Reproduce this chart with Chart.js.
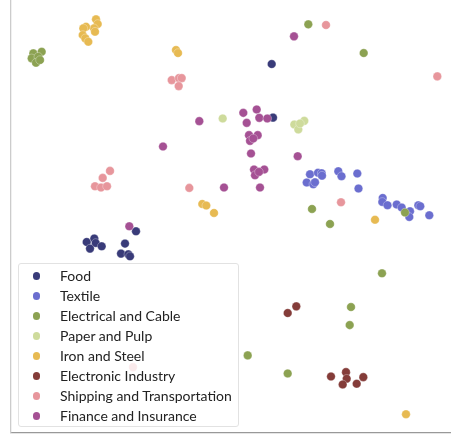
<!DOCTYPE html>
<html>
<head>
<meta charset="utf-8">
<script src="https://cdn.jsdelivr.net/npm/chart.js@4/dist/chart.umd.min.js"></script>
<style>
  html, body { margin: 0; padding: 0; background: #fff; }
  #wrap { position: relative; width: 451px; height: 434px; }
  #legend {
    position: absolute; left: 18px; top: 263px; width: 219px; height: 160px;
    border: 1px solid #e2e2e2; border-radius: 3px; background: rgba(255,255,255,0.8);
    padding-top: 2px; box-sizing: content-box;
    font-family: Lato, "Noto Sans", sans-serif; font-size: 14px; color: #222;
  }
  .item { height: 20px; line-height: 20px; position: relative; white-space: nowrap; }
  .dot { position: absolute; left: 14px; top: 6.3px; width: 7.4px; height: 7.4px; border-radius: 50%; }
  .lbl { position: absolute; left: 41px; top: 0; }
</style>
</head>
<body>
<div id="wrap">
  <canvas id="c" width="451" height="434"></canvas>
  <div id="legend"></div>
</div>
<script>
const categories = ["Food", "Textile", "Electrical and Cable", "Paper and Pulp", "Iron and Steel", "Electronic Industry", "Shipping and Transportation", "Finance and Insurance"];
const colors = ["#393b79", "#6b6ecf", "#8ca252", "#cedb9c", "#e7ba52", "#843c39", "#e7969c", "#a55194"];

const foodX = [260.7, 262, 75.7, 83.3, 84.7, 79, 90.7, 114, 110, 117.3, 119, 125];
const foodY = [368, 314.5, 190.3, 193.7, 189.3, 183.7, 186, 188.7, 178.7, 178, 176, 201];

const textileX = [299, 307, 310.7, 311, 295.7, 302.3, 304, 327.3, 330.5, 346.3, 347.5, 371.7, 371.3, 376.5, 385.7, 390.7, 399, 398.3, 407.3, 409.3, 418.3];
const textileY = [258, 259.5, 259, 256.5, 249.7, 248, 250, 261, 256, 258.7, 243.7, 234.3, 230.3, 227, 227.7, 224.7, 221, 215.3, 227, 226, 217];

const electricalX = [22.3, 30.7, 20.7, 27.3, 25, 29, 297.3, 352.7, 301, 394, 319, 371, 340, 338.7, 236.7, 276.7];
const electricalY = [378.7, 380.3, 373.7, 375.3, 369.3, 372, 407.7, 379, 223.3, 219.7, 208.3, 159, 125.3, 107.3, 77, 59];

const paperX = [211.7, 283.3, 293.3, 287.3, 289];
const paperY = [313.7, 307.7, 311.3, 302.7, 308.7];

const ironX = [85, 86.7, 83, 75, 72.3, 71.7, 74.3, 77.3, 84, 165, 167, 191.3, 195.3, 203, 364, 395];
const ironY = [412.7, 408, 403.7, 405.3, 403.7, 397, 393.7, 390.3, 400.3, 382, 379, 228.3, 226.7, 219.3, 212.5, 18.3];

const electronicX = [285.3, 276.7, 320, 335, 335.7, 331.7, 345.7, 352.3];
const electronicY = [126, 119.3, 56, 60.3, 53.7, 48, 48.7, 55.3];

const shippingX = [315, 426.3, 160.7, 168, 170.7, 167.7, 99, 91.7, 84, 90, 96, 178.3, 330, 122];
const shippingY = [407, 355.7, 352, 354, 354, 346, 261.3, 254.3, 246, 244.7, 246, 244.3, 230, 65.3];

const financeX = [283, 188.3, 152, 213, 232.3, 245.7, 235.7, 248.3, 256.3, 238, 246.7, 239, 242.3, 240, 286.7, 243, 253.3, 244, 248, 249, 118.3];
const financeY = [395.7, 311, 285.7, 244.7, 319.3, 322.7, 309.3, 314.3, 313.7, 297, 297, 291.3, 293.7, 278.7, 276, 262.7, 262.7, 257, 260.3, 244.7, 206];

const seriesX = [foodX, textileX, electricalX, paperX, ironX, electronicX, shippingX, financeX];
const seriesY = [foodY, textileY, electricalY, paperY, ironY, electronicY, shippingY, financeY];

const n = categories.length;
const datasets = categories.map((name, i) => ({
  label: name,
  data: seriesX[i].map((x, k) => ({ x: x, y: seriesY[i][k] })),
  backgroundColor: colors[i],
  borderColor: "rgba(255,255,255,0.6)",
  borderWidth: 0.5,
  pointRadius: 4.3,
  pointHoverRadius: 4.3,
  order: n - i,
  clip: false
}));

new Chart(document.getElementById("c"), {
  type: "scatter",
  data: { datasets },
  options: {
    responsive: false,
    animation: false,
    layout: { autoPadding: false, padding: { left: 11, right: 0, top: 0, bottom: 1.5 } },
    plugins: { legend: { display: false }, tooltip: { enabled: false } },
    scales: {
      x: {
        type: "linear", min: 0, max: 440,
        ticks: { display: false },
        grid: { display: false, drawTicks: false },
        border: { display: true, color: "#999", width: 1.3 }
      },
      y: {
        type: "linear", min: 0, max: 432,
        ticks: { display: false },
        grid: { display: false, drawTicks: false },
        border: { display: true, color: "#ccc", width: 1.3 }
      }
    }
  }
});

const legend = document.getElementById("legend");
categories.forEach((name, i) => {
  const item = document.createElement("div");
  item.className = "item";
  const dot = document.createElement("span");
  dot.className = "dot";
  dot.style.background = colors[i];
  const lbl = document.createElement("span");
  lbl.className = "lbl";
  lbl.textContent = name;
  item.appendChild(dot);
  item.appendChild(lbl);
  legend.appendChild(item);
});
</script>
</body>
</html>
